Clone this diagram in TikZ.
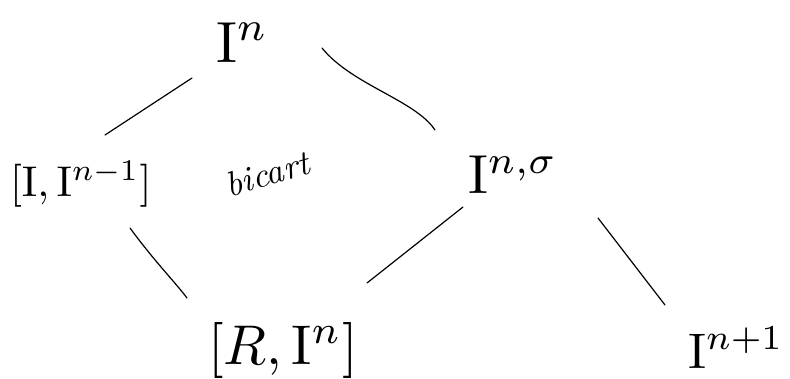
\documentclass[tikz,border=0pt]{standalone}
\begin{document}
\begin{tikzpicture}[x=1pt,y=-1pt,
  lbl/.style={anchor=base west,inner sep=0pt,outer sep=0pt,transform shape},
  conn/.style={line width=1.2pt,line cap=round}]
\useasboundingbox (0,0) rectangle (790,378);
\node[lbl,scale=5.8] (In) at (216,62) {$\mathrm{I}^{n}$};
\node[lbl,scale=4.3] (L) at (10,196) {$[\mathrm{I},\mathrm{I}^{n-1}]$};
\node[font=\itshape,scale=3.5,rotate=16,transform shape,inner sep=0pt] (B) at (267,174) {bicart};
\node[lbl,scale=5.5] (S) at (468,193) {$\mathrm{I}^{n,\sigma}$};
\node[lbl,scale=5.6] (R) at (208,364) {$[R,\mathrm{I}^{n}]$};
\node[lbl,scale=5] (N) at (688,368) {$\mathrm{I}^{n+1}$};
\draw[conn] ([shift={(-24,16)}]In.base west) -- ([shift={(95,-61)}]L.base west);
\draw[conn] ([shift={(106,-14)}]In.base west) .. controls (352,85) and (415,100) .. ([shift={(-33,-63)}]S.base west);
\draw[conn] ([shift={(120,32)}]L.base west) .. controls (155,262) and (175,282) .. ([shift={(-21,-66)}]R.base west);
\draw[conn] ([shift={(-5,14)}]S.base west) -- ([shift={(159,-81)}]R.base west);
\draw[conn] ([shift={(130,25)}]S.base west) -- ([shift={(-23,-63)}]N.base west);
\end{tikzpicture}
\end{document}
